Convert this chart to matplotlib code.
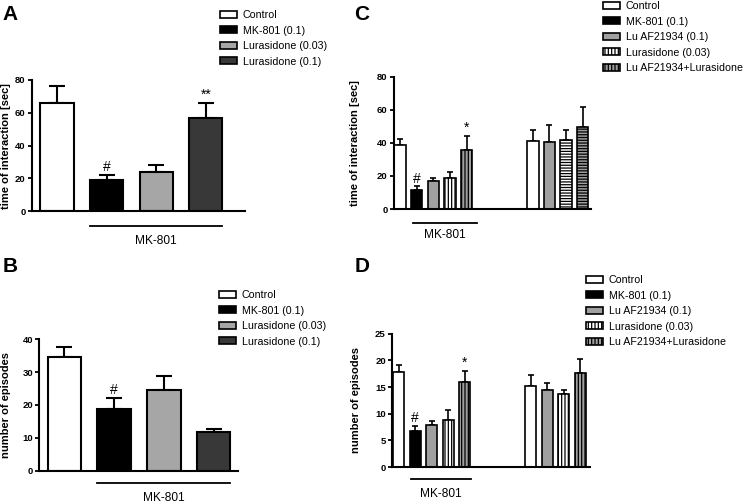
import numpy as np
import matplotlib
matplotlib.use("Agg")
import matplotlib.pyplot as plt
from matplotlib.patches import Patch
import matplotlib.transforms as mtransforms

plt.rcParams['font.family'] = ['Liberation Sans', 'DejaVu Sans']
plt.rcParams['hatch.linewidth'] = 0.9

# panels A and B
ab_labels = ['Control', 'MK-801 (0.1)', 'Lurasidone (0.03)', 'Lurasidone (0.1)']
a_mean = [66.1, 18.8, 24.2, 57.0]
a_err = [10.3, 3.0, 4.3, 8.7]
a_marks = ['', '#', '', '**']
b_mean = [34.7, 18.8, 24.6, 11.9]
b_err = [2.9, 3.2, 4.3, 0.9]
b_marks = ['', '#', '', '']

# panels C and D
cd_labels = ['Control', 'MK-801 (0.1)', 'Lu AF21934 (0.1)', 'Lurasidone (0.03)', 'Lu AF21934+Lurasidone']
c_mean = [38.7, 11.3, 17.1, 18.5, 35.9]
c_err = [3.4, 2.4, 1.4, 4.1, 8.2]
c_marks = ['', '#', '', '', '*']
c2_mean = [41.3, 40.7, 41.7, 49.7]
c2_err = [6.5, 10.3, 6.1, 12.2]
d_mean = [17.8, 6.75, 7.9, 8.9, 16.0]
d_err = [1.4, 0.9, 0.8, 1.8, 2.0]
d_marks = ['', '#', '', '', '*']
d2_mean = [15.1, 14.4, 13.6, 17.6]
d2_err = [2.1, 1.3, 0.9, 2.6]

ab_colors = ['white', 'black', '#a6a6a6', '#383838']
ab_hatch = [None, None, None, None]
cd_colors = ['white', 'black', '#a0a0a0', 'white', '#a0a0a0']
cd_hatch = [None, None, None, '|||||', '|||||']

fig = plt.figure(figsize=(7.46, 5.04), dpi=100)


def style_axis(ax, ticks, ylabel, lab_x):
    ax.set_ylim(0, ticks[-1])
    ax.set_yticks(ticks)
    for s in ['top', 'right']:
        ax.spines[s].set_visible(False)
    for s in ['left', 'bottom']:
        ax.spines[s].set_linewidth(1.5)
    ax.set_xticks([])
    ax.tick_params(axis='y', length=3, width=1.3, pad=1.5, labelsize=6.8)
    for t in ax.get_yticklabels():
        t.set_fontweight('bold')
    ax.set_ylabel(ylabel, fontsize=8, fontweight='bold')
    ax.yaxis.set_label_coords(lab_x, 0.5)


def draw_bars(ax, pos, mean, err, colors, hatches, width, lw, cap):
    for p, m, c, h in zip(pos, mean, colors, hatches):
        ax.bar(p, m, width=width, color=c, edgecolor='black', linewidth=lw,
               hatch=h, zorder=2)
    ax.errorbar(pos, mean, yerr=[np.zeros(len(mean)), err], fmt='none',
                ecolor='black', elinewidth=lw, capsize=cap, capthick=lw, zorder=1)


def marks(ax, pos, mean, err, labels, dy, size):
    for p, m, e, t in zip(pos, mean, err, labels):
        if t:
            ax.text(p, m + e + dy, t, ha='center', va='bottom', fontsize=size)


def underline(ax, x0, x1, yl, yt):
    tr = mtransforms.blended_transform_factory(ax.transData, ax.transAxes)
    ax.plot([x0, x1], [yl, yl], color='black', lw=1.3, transform=tr, clip_on=False)
    ax.text((x0 + x1) / 2, yt, 'MK-801', transform=tr, ha='center', va='center',
            fontsize=8.6)


def legend(labels, colors, hatches, x, y):
    handles = [Patch(facecolor=c, edgecolor='black', hatch=h, linewidth=1.2)
               for c, h in zip(colors, hatches)]
    fig.legend(handles, labels, loc='upper left', bbox_to_anchor=(x, y),
               frameon=False, fontsize=7.7, handlelength=1.6, handleheight=0.65,
               handletextpad=0.55, labelspacing=0.52, borderpad=0, borderaxespad=0)


# A
axA = fig.add_axes([0.0425, 0.5808, 0.286, 0.2605])
posA = np.arange(len(a_mean))
draw_bars(axA, posA, a_mean, a_err, ab_colors, ab_hatch, 0.67, 1.5, 6)
marks(axA, posA, a_mean, a_err, a_marks, 0.8, 10)
axA.set_xlim(-0.51, 3.79)
style_axis(axA, [0, 20, 40, 60, 80], 'time of interaction [sec]', -0.095)
underline(axA, 0.665, 3.335, -0.11, -0.225)

# B
axB = fig.add_axes([0.0527, 0.0661, 0.2664, 0.2607])
posB = np.arange(len(b_mean))
draw_bars(axB, posB, b_mean, b_err, ab_colors, ab_hatch, 0.67, 1.5, 6)
marks(axB, posB, b_mean, b_err, b_marks, 0.3, 10)
axB.set_xlim(-0.5, 3.49)
style_axis(axB, [0, 10, 20, 30, 40], 'number of episodes', -0.14)
underline(axB, 0.665, 3.335, -0.091, -0.21)

# C
axC = fig.add_axes([0.5277, 0.5853, 0.2645, 0.2625])
posC = np.arange(len(c_mean))
posC2 = np.arange(len(c2_mean)) + 8
draw_bars(axC, posC, c_mean, c_err, cd_colors, cd_hatch, 0.69, 1.2, 2.2)
draw_bars(axC, posC2, c2_mean, c2_err, ['white', '#a0a0a0', 'white', '#a0a0a0'],
          [None, None, '------', '------'], 0.69, 1.2, 2.2)
marks(axC, posC, c_mean, c_err, c_marks, 0.5, 10)
axC.set_xlim(-0.39, 11.5)
style_axis(axC, [0, 20, 40, 60, 80], 'time of interaction [sec]', -0.17)
underline(axC, 0.77, 4.63, -0.104, -0.197)

# D
axD = fig.add_axes([0.5255, 0.0734, 0.2654, 0.2645])
posD = np.arange(len(d_mean))
posD2 = np.arange(len(d2_mean)) + 8
draw_bars(axD, posD, d_mean, d_err, cd_colors, cd_hatch, 0.69, 1.2, 2.2)
draw_bars(axD, posD2, d2_mean, d2_err, ['white', '#a0a0a0', 'white', '#a0a0a0'],
          [None, None, '|||||', '|||||'], 0.69, 1.2, 2.2)
marks(axD, posD, d_mean, d_err, d_marks, 0.2, 10)
axD.set_xlim(-0.41, 11.59)
style_axis(axD, [0, 5, 10, 15, 20, 25], 'number of episodes', -0.157)
underline(axD, 0.74, 4.38, -0.09, -0.2)

legend(ab_labels, ab_colors, ab_hatch, 220 / 746, 1 - 10 / 504)
legend(ab_labels, ab_colors, ab_hatch, 219 / 746, 1 - 290 / 504)
legend(cd_labels, cd_colors, cd_hatch, 603 / 746, 1 - 1 / 504)
legend(cd_labels, cd_colors, cd_hatch, 586 / 746, 1 - 275 / 504)

for t, x, y in [('A', 10, 15), ('B', 10, 267), ('C', 362, 15), ('D', 362, 267)]:
    fig.text(x / 746, 1 - y / 504, t, fontsize=15, fontweight='bold',
             ha='center', va='center')

fig.savefig('out.png', dpi=100)
